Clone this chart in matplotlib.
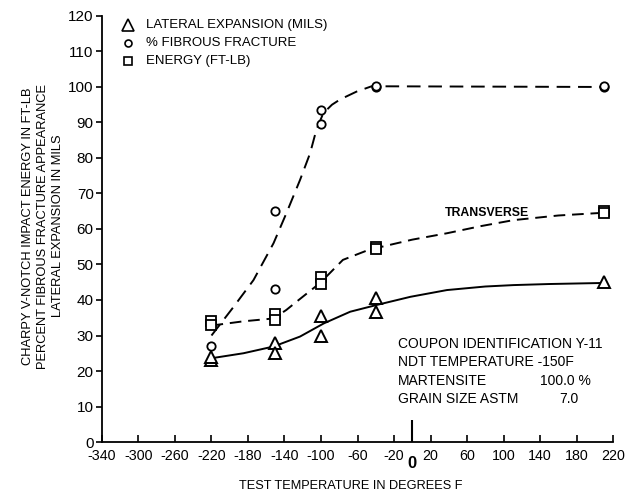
import matplotlib
matplotlib.use('Agg')
import matplotlib.pyplot as plt

plt.rcParams['font.family'] = ['Liberation Sans', 'DejaVu Sans']

# measured points (temperature F, value)
lat_t = [-220, -220, -150, -150, -100, -100, -40, -40, 210]
lat_v = [23, 24, 28, 25, 35.5, 30, 40.5, 36.5, 45]
fib_t = [-220, -150, -150, -100, -100, -40, -40, 210, 210]
fib_v = [27, 65, 43, 93.5, 89.5, 100, 100.3, 100, 100.3]
en_t = [-220, -220, -150, -150, -100, -100, -40, -40, 210, 210]
en_v = [34, 33, 36, 34.5, 46.5, 44.5, 55, 54.5, 65, 64.5]

# hand-drawn trend curves
lat_curve_t = [-220, -185, -152, -123, -97, -68, -39, -2, 38, 80, 111, 150, 210]
lat_curve_v = [23.6, 25.0, 26.9, 29.7, 33.4, 36.7, 38.6, 40.9, 42.8, 43.8, 44.2, 44.5, 44.8]
fib_curve_t = [-220, -196, -174, -152, -138, -123, -112, -105, -97.5, -88, -79, -61, -44.5, 210]
fib_curve_v = [30, 38, 45.6, 56, 64.4, 73.8, 81.3, 88, 92.6, 95, 96.5, 98.7, 100.2, 100]
en_curve_t = [-220, -185, -152, -138, -123, -101, -76, -43, -35, 0, 38, 75, 111, 160, 205]
en_curve_v = [32.8, 34, 34.8, 37.2, 40.3, 44.8, 51.3, 54.6, 54.9, 57.0, 58.8, 60.8, 62.5, 63.8, 64.5]

xticks = list(range(-340, 221, 40))
yticks = list(range(0, 121, 10))

fig = plt.figure(figsize=(6.35, 4.99), dpi=100)
ax = fig.add_axes([0.1606, 0.1142, 0.8048, 0.8538])

ax.plot(fib_curve_t, fib_curve_v, color='black', lw=1.4, dashes=(7, 4))
ax.plot(en_curve_t, en_curve_v, color='black', lw=1.4, dashes=(6, 3.5))
ax.plot(lat_curve_t, lat_curve_v, color='black', lw=1.4)

ax.plot(lat_t, lat_v, '^', ms=9, mfc='white', mec='black', mew=1.4, ls='none')
ax.plot(fib_t, fib_v, 'o', ms=6, mfc='white', mec='black', mew=1.3, ls='none')
ax.plot(en_t, en_v, 's', ms=6.5, mfc='white', mec='black', mew=1.3, ls='none')

ax.set_xlim(-340, 220)
ax.set_ylim(0, 120)
ax.spines['top'].set_visible(False)
ax.spines['right'].set_visible(False)
ax.spines['left'].set_linewidth(1.3)
ax.spines['bottom'].set_linewidth(1.3)

ax.set_xticks(xticks)
ax.set_xticklabels([str(t) for t in xticks])
ax.set_xticks([0], minor=True)
ax.set_xticklabels(['0'], minor=True, fontweight='bold', fontsize=12)
ax.tick_params(axis='x', which='major', direction='in', length=5, width=1.2, labelsize=10.3, pad=5)
ax.tick_params(axis='x', which='minor', direction='in', length=16, width=1.5, pad=10)
ax.set_yticks(yticks)
ax.tick_params(axis='y', direction='out', length=4, width=1.2, labelsize=11, pad=2)

fig.text(0.553, 0.026, 'TEST TEMPERATURE IN DEGREES F', fontsize=9.2, ha='center', va='center')
fig.text(0.068, 0.547, 'CHARPY V-NOTCH IMPACT ENERGY IN FT-LB\nPERCENT FIBROUS FRACTURE APPEARANCE\nLATERAL EXPANSION IN MILS',
         rotation=90, ha='center', va='center', fontsize=9.3, linespacing=1.33, multialignment='center')

# legend drawn as text rows
leg = [('^', 8, 'LATERAL EXPANSION (MILS)'), ('o', 5, '% FIBROUS FRACTURE'), ('s', 5.5, 'ENERGY (FT-LB)')]
for i, (m, s, lab) in enumerate(leg):
    yy = 0.95 - i * 0.036
    fig.lines.append(plt.Line2D([0.2016], [yy], marker=m, ms=s, mfc='white', mec='black', mew=1.2,
                                transform=fig.transFigure, ls='none'))
    fig.text(0.230, yy, lab, fontsize=9.5, va='center')

ax.text(36, 64.5, 'TRANSVERSE', fontsize=8.8, fontweight='bold', va='center')

info = [('COUPON IDENTIFICATION Y-11', ''), ('NDT TEMPERATURE -150F', ''),
        ('MARTENSITE', '100.0 %'), ('GRAIN SIZE ASTM', '7.0')]
for i, (a, b) in enumerate(info):
    yy = 27.5 - i * 5.1
    ax.text(-16, yy, a, fontsize=10, va='center')
    if b:
        ax.text(161 if b == '7.0' else 140, yy, b, fontsize=10, va='center')

fig.savefig('out.png', dpi=100)
